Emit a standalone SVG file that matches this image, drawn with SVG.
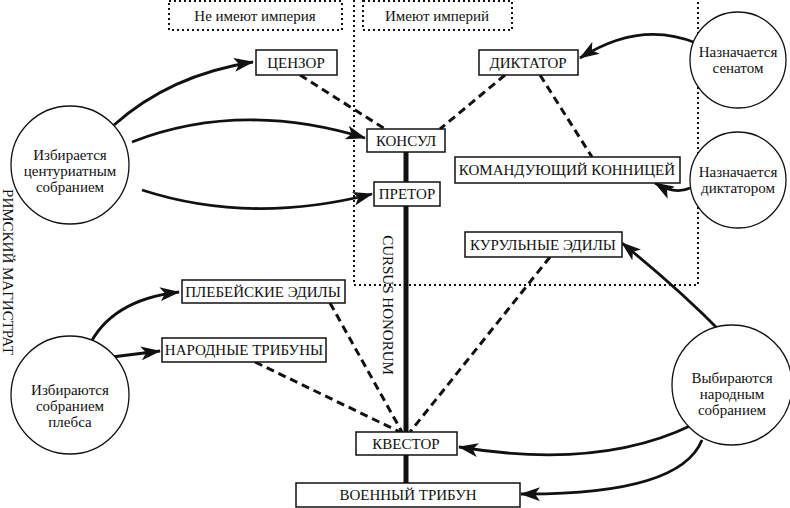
<svg xmlns="http://www.w3.org/2000/svg" width="790" height="508" viewBox="0 0 790 508">
<defs>
<marker id="ah" viewBox="0 0 20 14" refX="19" refY="7" markerWidth="20" markerHeight="14" markerUnits="userSpaceOnUse" orient="auto"><path d="M0,0 L20,7 L0,14 L5,7 Z" fill="#111"/></marker>
<style>
text{font-family:"Liberation Serif",serif;font-size:15px;fill:#111;text-anchor:middle}
.b{fill:#fff;stroke:#111;stroke-width:1.5}
.c{fill:#fff;stroke:#111;stroke-width:1.3}
.dot{fill:none;stroke:#111;stroke-width:2;stroke-dasharray:2 3}
.arr{fill:none;stroke:#111;stroke-width:2.8;marker-end:url(#ah)}
.dash{fill:none;stroke:#111;stroke-width:3;stroke-dasharray:8 5}
</style>
</defs>
<rect width="790" height="508" fill="#fff"/>
<g id="frames">
<rect x="169" y="1" width="173" height="29" class="dot"/>
<rect x="363" y="1" width="149" height="29" class="dot"/>
<path d="M354,0 V285 H698 V0" class="dot"/>
<text x="255" y="21">Не имеют империя</text>
<text x="437" y="21">Имеют империй</text>
<text transform="translate(3,272) rotate(90)" x="0" y="0">РИМСКИЙ  МАГИСТРАТ</text>
</g>
<g id="connectors">
<line x1="406" y1="150" x2="406" y2="484" stroke="#111" stroke-width="5"/>
<path class="dash" d="M300,75 L385,129"/>
<path class="dash" d="M505,75 L440,129"/>
<path class="dash" d="M540,75 L592,157"/>
<path class="dash" d="M330,303 L402,432"/>
<path class="dash" d="M255,362 L400,432"/>
<path class="dash" d="M550,257 L410,432"/>
<path class="arr" d="M114,125 Q170,75 253,62"/>
<path class="arr" d="M132,142 Q240,100 365,138"/>
<path class="arr" d="M142,190 Q250,225 372,194"/>
<path class="arr" d="M88,348 Q110,300 179,292"/>
<path class="arr" d="M112,357 L160,351"/>
<path class="arr" d="M696,43 Q640,20 580,58"/>
<path class="arr" d="M690,188 Q675,195 655,183"/>
<path class="arr" d="M722,333 Q680,290 622,243"/>
<path class="arr" d="M692,425 Q600,470 459,447"/>
<path class="arr" d="M702,440 Q680,495 521,494"/>
</g>
<text transform="translate(388,305) rotate(90)" x="0" y="5">CURSUS HONORUM</text>
<g id="n1"><circle cx="70" cy="165" r="59" class="c"/><text x="70" y="160">Избирается</text><text x="70" y="176">центуриатным</text><text x="70" y="192">собранием</text></g>
<g id="n2"><circle cx="70" cy="395" r="59" class="c"/><text x="70" y="395">Избираются</text><text x="70" y="411">собранием</text><text x="70" y="427">плебса</text></g>
<g id="n3"><circle cx="738" cy="60" r="48" class="c"/><text x="738" y="57">Назначается</text><text x="738" y="73">сенатом</text></g>
<g id="n4"><circle cx="738" cy="180" r="48" class="c"/><text x="738" y="177">Назначается</text><text x="738" y="193">диктатором</text></g>
<g id="n5"><circle cx="732" cy="385" r="60" class="c"/><text x="732" y="383">Выбираются</text><text x="732" y="399">народным</text><text x="732" y="415">собранием</text></g>
<g id="censor"><rect x="256" y="50" width="81" height="25" class="b"/><text x="296" y="68">ЦЕНЗОР</text></g>
<g id="dictator"><rect x="479" y="50" width="99" height="25" class="b"/><text x="528" y="68">ДИКТАТОР</text></g>
<g id="consul"><rect x="367" y="129" width="78" height="23" class="b"/><text x="406" y="146">КОНСУЛ</text></g>
<g id="praetor"><rect x="374" y="182" width="66" height="24" class="b"/><text x="407" y="199">ПРЕТОР</text></g>
<g id="magister"><rect x="455" y="157" width="225" height="26" class="b"/><text x="567" y="175">КОМАНДУЮЩИЙ КОННИЦЕЙ</text></g>
<g id="curule"><rect x="465" y="232" width="157" height="25" class="b"/><text x="543" y="250">КУРУЛЬНЫЕ ЭДИЛЫ</text></g>
<g id="pleb"><rect x="182" y="280" width="163" height="23" class="b"/><text x="263" y="297">ПЛЕБЕЙСКИЕ ЭДИЛЫ</text></g>
<g id="tribunes"><rect x="162" y="338" width="164" height="24" class="b"/><text x="244" y="355">НАРОДНЫЕ ТРИБУНЫ</text></g>
<g id="quaestor"><rect x="356" y="432" width="101" height="23" class="b"/><text x="406" y="449">КВЕСТОР</text></g>
<g id="military"><rect x="296" y="483" width="224" height="24" class="b"/><text x="408" y="500">ВОЕННЫЙ ТРИБУН</text></g>
</svg>
